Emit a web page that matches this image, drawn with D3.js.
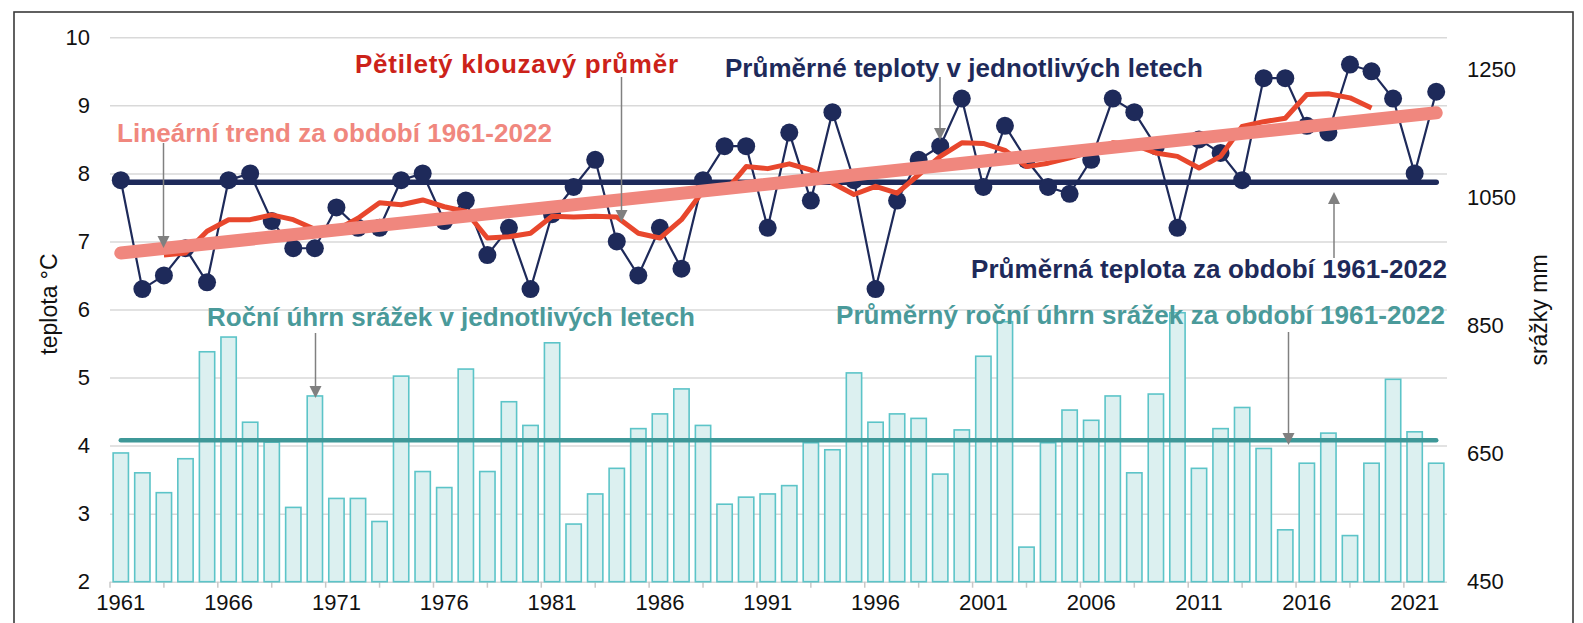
<!DOCTYPE html>
<html>
<head>
<meta charset="utf-8">
<script src="https://cdn.jsdelivr.net/npm/d3@7"></script>
<style>
  body { margin: 0; background: #fff; }
  text { font-family: "Liberation Sans", Arial, sans-serif; }
</style>
</head>
<body>
<div id="chart"></div>
<script>
// ************ data ************
var years = d3.range(1961, 2023);

// average annual temperature, °C
var teplota = [7.9, 6.3, 6.5, 6.9, 6.4, 7.9, 8.0, 7.3, 6.9, 6.9,
               7.5, 7.2, 7.2, 7.9, 8.0, 7.3, 7.6, 6.8, 7.2, 6.3,
               7.4, 7.8, 8.2, 7.0, 6.5, 7.2, 6.6, 7.9, 8.4, 8.4,
               7.2, 8.6, 7.6, 8.9, 7.9, 6.3, 7.6, 8.2, 8.4, 9.1,
               7.8, 8.7, 8.2, 7.8, 7.7, 8.2, 9.1, 8.9, 8.4, 7.2,
               8.5, 8.3, 7.9, 9.4, 9.4, 8.7, 8.6, 9.6, 9.5, 9.1,
               8.0, 9.2];

// five-year moving average, null where not drawn
var klouzavy = [null, null, 6.80, 6.83, 7.15, 7.32, 7.32, 7.39, 7.32, 7.18,
                7.17, 7.34, 7.57, 7.54, 7.61, 7.51, 7.44, 7.05, 7.07, 7.12,
                7.37, 7.36, 7.37, 7.36, 7.12, 7.05, 7.32, 7.74, 7.72, 8.10,
                8.07, 8.14, 8.05, 7.86, 7.69, 7.81, 7.71, 7.98, 8.25, 8.45,
                8.44, 8.34, 8.10, 8.15, 8.23, 8.32, 8.45, 8.42, 8.30, 8.25,
                8.08, 8.25, 8.69, 8.76, 8.81, 9.16, 9.17, 9.11, 8.96, null,
                null, null];

// annual precipitation, mm
var srazky = [651, 620, 589, 642, 809, 832, 699, 668, 566, 740,
              580, 580, 544, 771, 622, 597, 782, 622, 731, 694,
              823, 540, 587, 627, 689, 712, 751, 694, 571, 582,
              587, 600, 667, 656, 776, 699, 712, 705, 618, 687,
              802, 856, 504, 667, 718, 702, 740, 620, 743, 870,
              627, 689, 722, 658, 531, 635, 682, 522, 635, 766,
              684, 635];

var prumerTeplota = 7.87;          // mean temperature 1961-2022
var prumerSrazky = 671;            // mean precipitation 1961-2022
var trendKonce = [6.83, 8.89];     // linear trend at 1961 and 2022

var leftTicks = [2, 3, 4, 5, 6, 7, 8, 9, 10];
var rightTicks = [450, 650, 850, 1050, 1250];
var yearLabels = [1961, 1966, 1971, 1976, 1981, 1986, 1991, 1996, 2001, 2006, 2011, 2016, 2021];

// ************ layout ************
var width = 1583, height = 623;
var plotL = 110, plotR = 1447, plotT = 37.3, plotB = 581.7;

var svg = d3.select('#chart').append('svg')
            .attr('width', width)
            .attr('height', height);

var x = d3.scaleBand()
          .domain(years)
          .range([plotL, plotR])
          .paddingInner(0.29)
          .paddingOuter(0.145);
var xc = function(yr) { return x(yr) + x.bandwidth() / 2; };

var yL = d3.scaleLinear().domain([2, 10]).range([plotB, plotT]);
var yR = d3.scaleLinear().domain([450, 1300]).range([plotB, plotT]);

// frame
svg.append('rect')
   .attr('x', 14).attr('y', 12)
   .attr('width', 1559).attr('height', 700)
   .style('fill', 'none')
   .style('stroke', '#3a3a3a')
   .style('stroke-width', 1.6);

// gridlines
svg.append('g')
   .attr('transform', 'translate(' + plotL + ',0)')
   .call(d3.axisLeft(yL).tickValues(leftTicks).tickSize(-(plotR - plotL)).tickFormat(''))
   .call(function(g) { g.select('.domain').remove(); })
   .selectAll('line')
   .style('stroke', '#d9d9d9')
   .style('stroke-width', 1.5);

// left axis labels
var axL = svg.append('g')
   .attr('transform', 'translate(' + plotL + ',0)')
   .call(d3.axisLeft(yL).tickValues(leftTicks).tickSize(0).tickPadding(20).tickFormat(d3.format('d')));
axL.select('.domain').remove();
axL.selectAll('text').style('font-size', '22px').style('fill', '#111');

// right axis labels
var axR = svg.append('g')
   .attr('transform', 'translate(' + plotR + ',0)')
   .call(d3.axisRight(yR).tickValues(rightTicks).tickSize(0).tickPadding(20).tickFormat(d3.format('d')));
axR.select('.domain').remove();
axR.selectAll('text').style('font-size', '22px').style('fill', '#111');

// bottom axis labels
var axB = svg.append('g')
   .attr('transform', 'translate(0,' + plotB + ')')
   .call(d3.axisBottom(x).tickValues(yearLabels).tickSize(0).tickPadding(13));
axB.select('.domain').remove();
axB.selectAll('text').style('font-size', '22px').style('fill', '#111');

// small category ticks every 2.5 years
var tickPos = d3.range(0, years.length, 2.5).map(function(k) { return plotL + x.step() * k; });
svg.selectAll('.xtick')
   .data(tickPos)
   .enter().append('line')
   .attr('x1', function(d) { return d; })
   .attr('x2', function(d) { return d; })
   .attr('y1', plotB)
   .attr('y2', plotB + 6)
   .style('stroke', '#c8c8c8')
   .style('stroke-width', 1.5);

// axis titles
svg.append('text')
   .attr('transform', 'translate(57,304) rotate(-90)')
   .attr('text-anchor', 'middle')
   .style('font-size', '23px')
   .style('fill', '#111')
   .text('teplota °C');

svg.append('text')
   .attr('transform', 'translate(1547,310) rotate(-90)')
   .attr('text-anchor', 'middle')
   .style('font-size', '23px')
   .style('fill', '#111')
   .text('srážky mm');

// ************ precipitation bars ************
svg.selectAll('.bar')
   .data(srazky)
   .enter().append('rect')
   .attr('x', function(d, i) { return x(years[i]); })
   .attr('y', function(d) { return yR(d); })
   .attr('width', x.bandwidth())
   .attr('height', function(d) { return plotB - yR(d); })
   .style('fill', '#dcf0f0')
   .style('stroke', '#5cc4c8')
   .style('stroke-width', 1.6);

// mean precipitation
svg.append('line')
   .attr('x1', xc(years[0])).attr('x2', xc(years[years.length - 1]))
   .attr('y1', yR(prumerSrazky)).attr('y2', yR(prumerSrazky))
   .style('stroke', '#3e9898')
   .style('stroke-width', 4.5)
   .style('stroke-linecap', 'round');

// mean temperature
svg.append('line')
   .attr('x1', xc(years[0])).attr('x2', xc(years[years.length - 1]))
   .attr('y1', yL(prumerTeplota)).attr('y2', yL(prumerTeplota))
   .style('stroke', '#1e2a5a')
   .style('stroke-width', 5.5)
   .style('stroke-linecap', 'round');

// temperature line + points
var tLine = d3.line()
   .x(function(d, i) { return xc(years[i]); })
   .y(function(d) { return yL(d); });

svg.append('path')
   .datum(teplota)
   .attr('d', tLine)
   .style('fill', 'none')
   .style('stroke', '#1e2a5a')
   .style('stroke-width', 2.2);

svg.selectAll('.dot')
   .data(teplota)
   .enter().append('circle')
   .attr('cx', function(d, i) { return xc(years[i]); })
   .attr('cy', function(d) { return yL(d); })
   .attr('r', 9)
   .style('fill', '#1e2a5a');

// moving average
var maLine = d3.line()
   .defined(function(d) { return d !== null; })
   .x(function(d, i) { return xc(years[i]); })
   .y(function(d) { return yL(d); });

svg.append('path')
   .datum(klouzavy)
   .attr('d', maLine)
   .style('fill', 'none')
   .style('stroke', '#e8472d')
   .style('stroke-width', 5)
   .style('stroke-linejoin', 'round');

// linear trend
svg.append('line')
   .attr('x1', xc(years[0])).attr('x2', xc(years[years.length - 1]))
   .attr('y1', yL(trendKonce[0])).attr('y2', yL(trendKonce[1]))
   .style('stroke', '#f0877e')
   .style('stroke-width', 13)
   .style('stroke-linecap', 'round');

// ************ annotations ************
var popisky = [
  { text: 'Pětiletý klouzavý průměr', x: 355, y: 73, w: 323, color: '#cc2219' },
  { text: 'Průměrné teploty v jednotlivých letech', x: 725, y: 77, w: 478, color: '#1e2a5a' },
  { text: 'Lineární trend za období 1961-2022', x: 117, y: 142, w: 435, color: '#f0877e' },
  { text: 'Průměrná teplota za období 1961-2022', x: 971, y: 278, w: 476, color: '#1e2a5a' },
  { text: 'Roční úhrn srážek v jednotlivých letech', x: 207, y: 326, w: 488, color: '#4a9a9a' },
  { text: 'Průměrný roční úhrn srážek za období 1961-2022', x: 836, y: 324, w: 609, color: '#4a9a9a' }
];

// arrows: x, start y, tip y
var sipky = [
  { x: 163.5, y1: 143, y2: 248 },
  { x: 621.5, y1: 77, y2: 222 },
  { x: 940, y1: 77, y2: 140 },
  { x: 1334, y1: 258, y2: 192 },
  { x: 315.5, y1: 333, y2: 398 },
  { x: 1288.5, y1: 332, y2: 445 }
];

svg.selectAll('.sipka')
   .data(sipky)
   .enter().append('line')
   .attr('x1', function(d) { return d.x; })
   .attr('x2', function(d) { return d.x; })
   .attr('y1', function(d) { return d.y1; })
   .attr('y2', function(d) { return d.y2 + (d.y2 > d.y1 ? -8 : 8); })
   .style('stroke', '#808080')
   .style('stroke-width', 1.5);

svg.selectAll('.hrot')
   .data(sipky)
   .enter().append('path')
   .attr('d', function(d) {
     var s = d.y2 > d.y1 ? -1 : 1;
     return 'M' + d.x + ',' + d.y2 + 'L' + (d.x - 6) + ',' + (d.y2 + s * 12) +
            'L' + (d.x + 6) + ',' + (d.y2 + s * 12) + 'Z';
   })
   .style('fill', '#808080');

svg.selectAll('.popisek')
   .data(popisky)
   .enter().append('text')
   .attr('x', function(d) { return d.x; })
   .attr('y', function(d) { return d.y; })
   .attr('textLength', function(d) { return d.w; })
   .attr('lengthAdjust', 'spacing')
   .style('font-size', '26px')
   .style('font-weight', 'bold')
   .style('fill', function(d) { return d.color; })
   .text(function(d) { return d.text; });
</script>
</body>
</html>
